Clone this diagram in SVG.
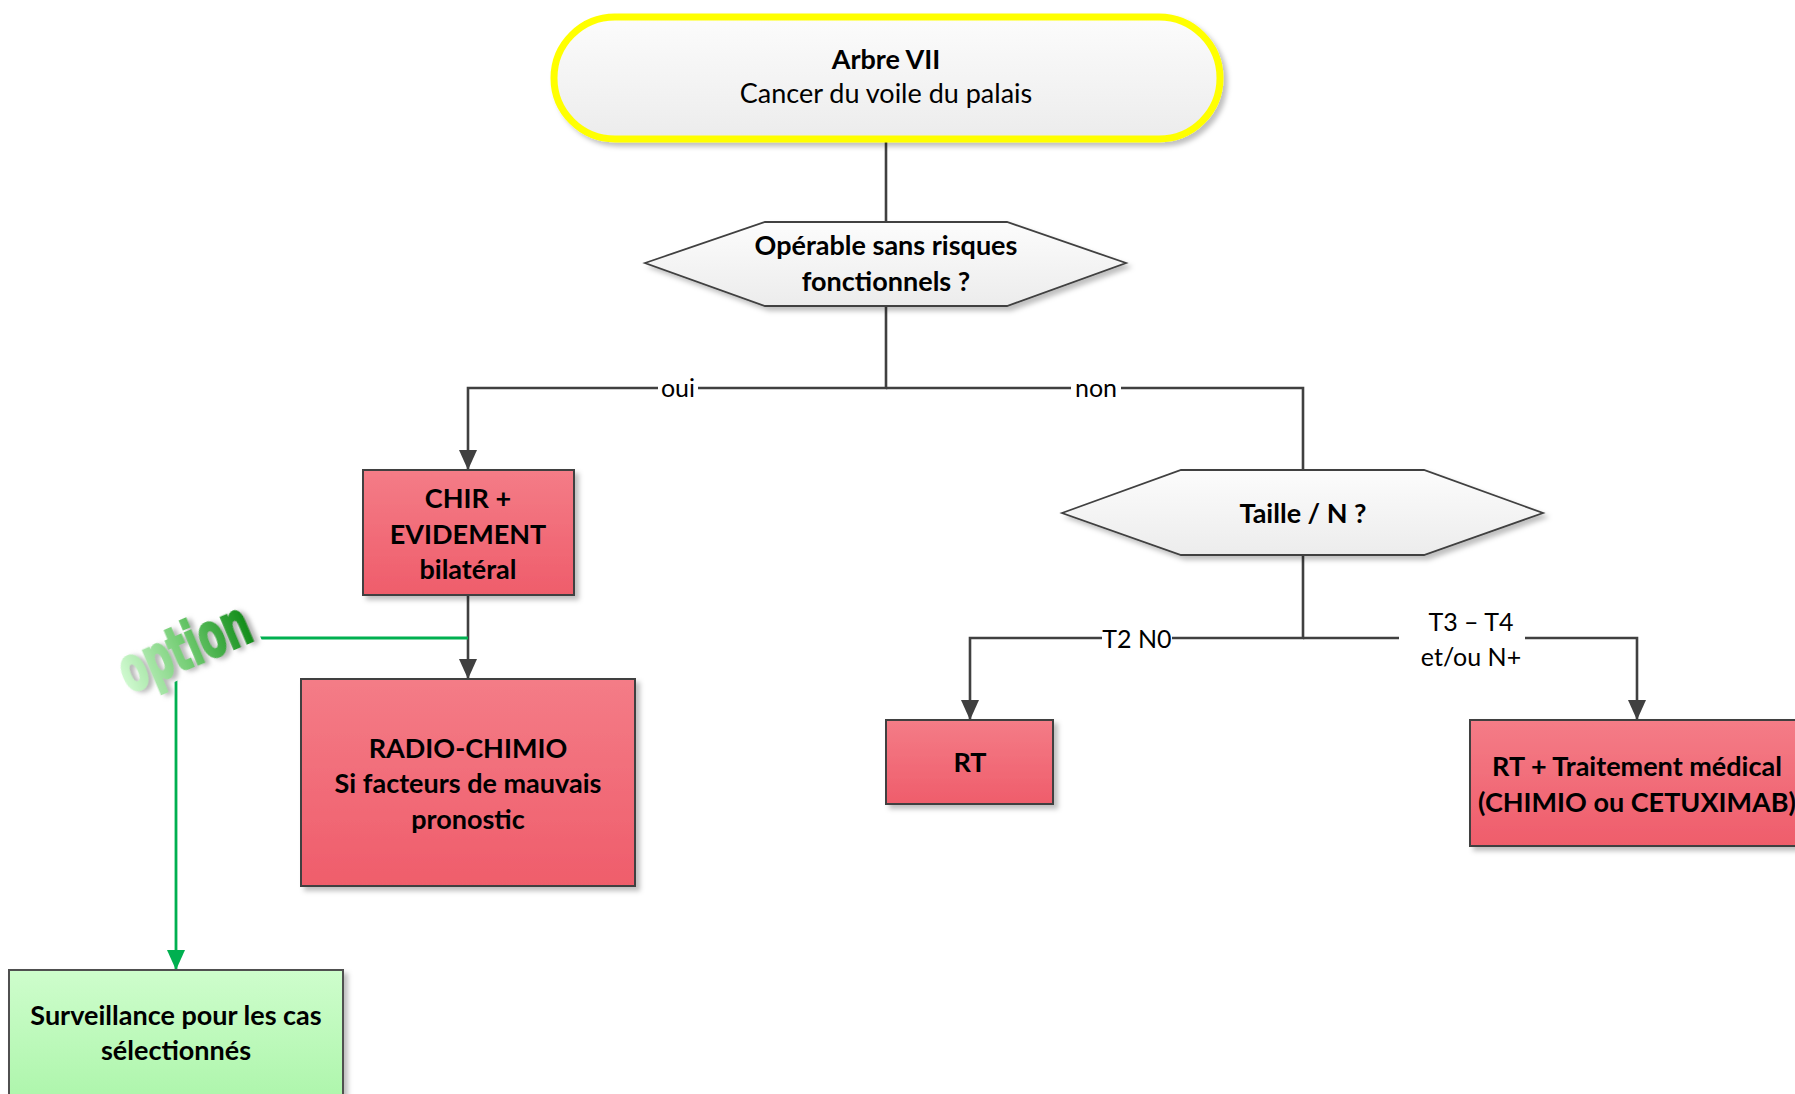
<svg xmlns="http://www.w3.org/2000/svg" width="1795" height="1094" viewBox="0 0 1795 1094">
<defs>
  <linearGradient id="gRed" x1="0" y1="0" x2="0" y2="1">
    <stop offset="0" stop-color="#F47C87"/>
    <stop offset="1" stop-color="#EF5D6B"/>
  </linearGradient>
  <linearGradient id="gGreen" x1="0" y1="0" x2="0" y2="1">
    <stop offset="0" stop-color="#CEFDCC"/>
    <stop offset="1" stop-color="#ABF5A9"/>
  </linearGradient>
  <linearGradient id="gGray" x1="0" y1="0" x2="0" y2="1">
    <stop offset="0" stop-color="#FCFCFC"/>
    <stop offset="1" stop-color="#ECECEC"/>
  </linearGradient>
  <linearGradient id="gOpt" gradientUnits="userSpaceOnUse" x1="-70" y1="0" x2="70" y2="0">
    <stop offset="0" stop-color="#D2FAD2"/>
    <stop offset="0.5" stop-color="#72CC72"/>
    <stop offset="1" stop-color="#0E8A16"/>
  </linearGradient>
  <filter id="sh" x="-10%" y="-10%" width="130%" height="130%">
    <feDropShadow dx="4" dy="4" stdDeviation="2.5" flood-color="#000" flood-opacity="0.25"/>
  </filter>
  <filter id="optsh" x="-20%" y="-40%" width="140%" height="180%">
    <feGaussianBlur in="SourceAlpha" stdDeviation="2" result="b"/>
    <feOffset in="b" dx="4" dy="2" result="o"/>
    <feFlood flood-color="#9A9A9A" flood-opacity="0.7"/>
    <feComposite in2="o" operator="in" result="s"/>
    <feMerge><feMergeNode in="s"/><feMergeNode in="SourceGraphic"/></feMerge>
  </filter>
  <marker id="arr" viewBox="0 0 20 18" refX="20" refY="9" markerWidth="20" markerHeight="18" markerUnits="userSpaceOnUse" orient="auto">
    <path d="M0,0 L20,9 L0,18 z" fill="#404040"/>
  </marker>
  <marker id="arrG" viewBox="0 0 20 18" refX="20" refY="9" markerWidth="20" markerHeight="18" markerUnits="userSpaceOnUse" orient="auto">
    <path d="M0,0 L20,9 L0,18 z" fill="#00B050"/>
  </marker>
  <style>
    text { font-family: Lato, "Liberation Sans", sans-serif; fill: #000; text-anchor: middle; }
    .b { font-weight: bold; font-size: 27px; }
    .r { font-size: 27px; }
    .lbl { font-size: 25px; }
    .opt { font-family: "DejaVu Sans Condensed", "Liberation Sans Narrow", sans-serif; font-weight: bold; font-size: 44px; fill: url(#gOpt); stroke: url(#gOpt); stroke-width: 1.6; }
    .box { stroke: #404040; stroke-width: 2; fill: url(#gRed); filter: url(#sh); }
    .gbox { stroke: #505050; stroke-width: 2; fill: url(#gGreen); filter: url(#sh); }
    .hex { stroke: #404040; stroke-width: 1.8; fill: url(#gGray); filter: url(#sh); }
    .con { fill: none; stroke: #404040; stroke-width: 2.6; }
    .gcon { fill: none; stroke: #00B050; stroke-width: 2.8; }
    .lbg { fill: #fff; }
  </style>
</defs>

<g id="connectors">
  <path class="con" d="M886,142 V222"/>
  <path class="con" d="M886,306 V388 H468 V470" marker-end="url(#arr)"/>
  <path class="con" d="M886,388 H1303 V470"/>
  <path class="con" d="M468,595 V679" marker-end="url(#arr)"/>
  <path class="gcon" d="M468,638 H176 V970" marker-end="url(#arrG)"/>
  <path class="con" d="M1303,555 V638 H970 V720" marker-end="url(#arr)"/>
  <path class="con" d="M1303,638 H1637 V720" marker-end="url(#arr)"/>
  <g id="lbl-oui"><rect class="lbg" x="658" y="375" width="40" height="26"/><text class="lbl" x="678" y="397">oui</text></g>
  <g id="lbl-non"><rect class="lbg" x="1071" y="375" width="50" height="26"/><text class="lbl" x="1096" y="397">non</text></g>
  <g id="lbl-t2"><rect class="lbg" x="1102" y="626" width="70" height="26"/><text class="lbl" x="1137" y="648">T2 N0</text></g>
  <g id="lbl-t3"><rect class="lbg" x="1399" y="604" width="126" height="68"/><text class="lbl" x="1471" y="631">T3 – T4</text><text class="lbl" x="1471" y="666">et/ou N+</text></g>
</g>

<g id="n-start">
  <rect x="554" y="17" width="666" height="122" rx="61" ry="61" fill="url(#gGray)" stroke="#FFFF00" stroke-width="7" filter="url(#sh)"/>
  <text class="b" x="886" y="69">Arbre VII</text>
  <text class="r" x="886" y="103">Cancer du voile du palais</text>
</g>

<g id="n-operable">
  <polygon class="hex" points="645,263 765,222 1007,222 1126,263 1007,306 765,306"/>
  <text class="b" x="886" y="255">Opérable sans risques</text>
  <text class="b" x="886" y="291">fonctionnels ?</text>
</g>

<g id="n-chir">
  <rect class="box" x="363" y="470" width="211" height="125"/>
  <text class="b" x="468" y="508">CHIR +</text>
  <text class="b" x="468" y="544">EVIDEMENT</text>
  <text class="b" x="468" y="579">bilatéral</text>
</g>

<g id="n-option">
  <g transform="translate(186,651) rotate(-23)">
    <rect x="-74" y="-28" width="148" height="52" fill="#fff"/>
    <g transform="scale(1,1.4)">
      <text class="opt" x="0" y="12" textLength="138" lengthAdjust="spacingAndGlyphs" filter="url(#optsh)">option</text>
    </g>
  </g>
</g>

<g id="n-radio">
  <rect class="box" x="301" y="679" width="334" height="207"/>
  <text class="b" x="468" y="758">RADIO-CHIMIO</text>
  <text class="b" x="468" y="793">Si facteurs de mauvais</text>
  <text class="b" x="468" y="829">pronostic</text>
</g>

<g id="n-surv">
  <rect class="gbox" x="9" y="970" width="334" height="140"/>
  <text class="b" x="176" y="1025">Surveillance pour les cas</text>
  <text class="b" x="176" y="1060">sélectionnés</text>
</g>

<g id="n-taille">
  <polygon class="hex" points="1062,513 1181,470 1424,470 1543,513 1424,555 1181,555"/>
  <text class="b" x="1303" y="523">Taille / N ?</text>
</g>

<g id="n-rt">
  <rect class="box" x="886" y="720" width="167" height="84"/>
  <text class="b" x="970" y="772">RT</text>
</g>

<g id="n-rtmed">
  <rect class="box" x="1470" y="720" width="340" height="126"/>
  <text class="b" x="1637" y="776">RT + Traitement médical</text>
  <text class="b" x="1637" y="812">(CHIMIO ou CETUXIMAB)</text>
</g>
</svg>
